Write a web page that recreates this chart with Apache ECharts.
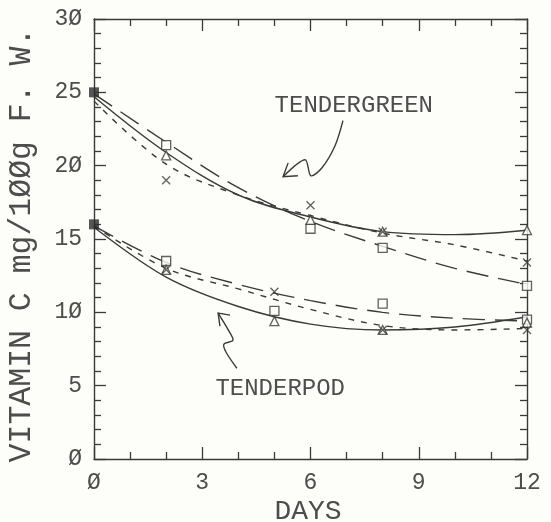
<!DOCTYPE html>
<html><head><meta charset="utf-8">
<script src="https://cdn.jsdelivr.net/npm/echarts@6/dist/echarts.min.js"></script>
<style>html,body{margin:0;padding:0;background:#fdfdf9}#c{width:551px;height:522px}</style>
</head><body><div id="c"></div>
<script>
// ---- data ----
const xTicks = ['Ø', '3', '6', '9', '12'];
const yTicks = ['Ø', '5', '1Ø', '15', '2Ø', '25', '3Ø'];
const initialDays = [0, 0];
const initialValues = [25, 16];

const daysGreen = [0, 2, 6, 8, 12];
const greenSquare = [25, 21.4, 15.7, 14.4, 11.8];
const greenTriangle = [25, 20.7, 16.3, 15.5, 15.6];
const greenCross = [25, 19.0, 17.3, 15.5, 13.4];

const daysPod = [0, 2, 5, 8, 12];
const podSquare = [16, 13.5, 10.1, 10.6, 9.5];
const podTriangle = [16, 12.9, 9.4, 8.8, 9.3];
const podCross = [16, 12.9, 11.4, 8.8, 8.8];

const curveDays = [0, 2, 4, 6, 8, 10, 12];
const greenSquareFit = [24.9, 21.6, 18.5, 16.2, 14.5, 13.0, 11.9];
const greenTriangleFit = [24.7, 20.9, 18.0, 16.5, 15.5, 15.3, 15.6];
const greenCrossFit = [24.4, 20.1, 18.0, 16.6, 15.4, 14.6, 13.5];
const podSquareFit = [15.9, 13.4, 11.9, 10.8, 10.0, 9.6, 9.4];
const podTriangleFit = [15.8, 12.4, 10.4, 9.2, 8.8, 9.0, 9.7];
const podCrossFit = [15.9, 13.0, 11.6, 10.2, 9.1, 8.8, 8.9];

// annotation texts and arrows (in data coordinates)
const labelGreen = 'TENDERGREEN';
const labelGreenAt = [7.2, 24.1];
const arrowGreen = [[6.90, 23.07], [6.68, 21.36], [6.32, 19.86], [6.01, 19.31], [5.85, 20.40], [5.24, 19.24]];
const arrowGreenHead = [[5.38, 20.19], [5.24, 19.24], [5.65, 19.31]];
const labelPod = 'TENDERPOD';
const labelPodAt = [5.16, 4.82];
const arrowPod = [[3.96, 6.19], [3.66, 7.28], [3.60, 7.83], [3.85, 8.10], [3.74, 8.72], [3.44, 9.95]];
const arrowPodHead = [[3.77, 9.81], [3.44, 9.95], [3.49, 9.06]];

// ---- chart ----
const INK = '#3a3a3a';
const TXT = '#4d4d4d';
const BG = '#fdfdf9';
const FONT = '"Liberation Mono", "DejaVu Sans Mono", monospace';
const pair = (xs, ys) => xs.map((x, i) => [x, ys[i]]);
const crossPath = 'path://M0,0L10,10M10,0L0,10';

function axisCommon(showLabel, labels, interval, minorSplit) {
  return {
    type: 'value', min: 0, interval: interval,
    axisLine: { show: true, onZero: false, lineStyle: { color: INK, width: 1.4 } },
    axisTick: { show: true, inside: true, length: 12, lineStyle: { color: INK, width: 1.3 } },
    minorTick: { show: true, splitNumber: minorSplit, length: 7, lineStyle: { color: INK, width: 1.3 } },
    splitLine: { show: false },
    axisLabel: {
      show: showLabel, color: TXT, fontFamily: FONT, fontSize: 23,
      formatter: v => labels[Math.round(v / interval)]
    }
  };
}

const xA = Object.assign(axisCommon(true, xTicks, 3, 3), { max: 12, position: 'bottom' });
xA.axisLabel.margin = 12;
const xB = Object.assign(axisCommon(false, xTicks, 3, 3), { max: 12, position: 'top' });
const yA = Object.assign(axisCommon(true, yTicks, 5, 5), { max: 30, position: 'left' });
yA.axisLabel.margin = 12;
const yB = Object.assign(axisCommon(false, yTicks, 5, 5), { max: 30, position: 'right' });

function fit(xs, ys, type) {
  return {
    type: 'line', data: pair(xs, ys), smooth: 0.35, symbol: 'none', silent: true,
    lineStyle: { color: INK, width: 1.4, type: type }, z: 2
  };
}
function marks(xs, ys, symbol, size) {
  return {
    type: 'scatter', data: pair(xs, ys).slice(1), symbol: symbol, symbolSize: size,
    itemStyle: { color: BG, borderColor: INK, borderWidth: 1.3 }, z: 3
  };
}

const chart = echarts.init(document.getElementById('c'), null, { renderer: 'canvas' });
chart.setOption({
  backgroundColor: BG,
  animation: false,
  grid: { left: 94, right: 24, top: 19, bottom: 63 },
  xAxis: [xA, xB],
  yAxis: [yA, yB],
  series: [
    fit(curveDays, greenSquareFit, [22, 10]),
    fit(curveDays, greenTriangleFit, 'solid'),
    fit(curveDays, greenCrossFit, [6, 7]),
    fit(curveDays, podSquareFit, [22, 10]),
    fit(curveDays, podTriangleFit, 'solid'),
    fit(curveDays, podCrossFit, [6, 7]),
    marks(daysGreen, greenSquare, 'rect', 9),
    marks(daysGreen, greenTriangle, 'triangle', 9),
    marks(daysGreen, greenCross, crossPath, 8),
    marks(daysPod, podSquare, 'rect', 9),
    marks(daysPod, podTriangle, 'triangle', 9),
    marks(daysPod, podCross, crossPath, 8),
    {
      type: 'scatter', data: pair(initialDays, initialValues), symbol: 'rect', symbolSize: 10,
      itemStyle: { color: '#2a2a2a' }, z: 4
    }
  ]
});

const px = p => chart.convertToPixel({ xAxisIndex: 0, yAxisIndex: 0 }, p);
const lineEl = (pts, smooth) => ({
  type: 'polyline', shape: { points: pts.map(px), smooth: smooth || 0 },
  style: { stroke: INK, lineWidth: 1.4, fill: null }, z: 10
});
const textEl = (t, at) => {
  const p = px(at);
  return {
    type: 'text', x: p[0], y: p[1], z: 10,
    style: { text: t, fill: TXT, font: '24px ' + FONT, align: 'center', verticalAlign: 'middle' }
  };
};
chart.setOption({
  graphic: [
    textEl(labelGreen, labelGreenAt),
    textEl(labelPod, labelPodAt),
    lineEl(arrowGreen, 0.3),
    lineEl(arrowGreenHead),
    lineEl(arrowPod, 0.3),
    lineEl(arrowPodHead),
    {
      type: 'text', x: 22, y: 245, rotation: Math.PI / 2,
      style: { text: 'VITAMIN C mg/1ØØg F. W.', fill: TXT, font: '31.5px ' + FONT, align: 'center', verticalAlign: 'middle' }
    },
    {
      type: 'text', x: 308, y: 512,
      style: { text: 'DAYS', fill: TXT, font: '28px ' + FONT, align: 'center', verticalAlign: 'middle' }
    }
  ]
});
</script></body></html>
